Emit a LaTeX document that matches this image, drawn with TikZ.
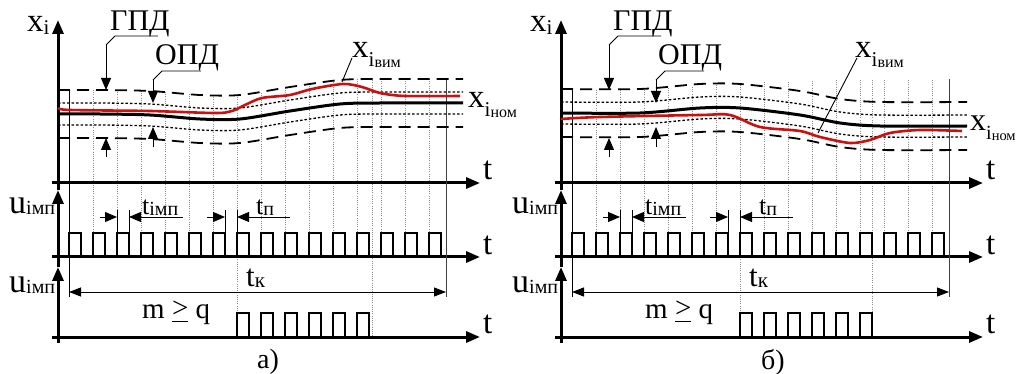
\documentclass[tikz,border=0pt]{standalone}
\usepackage{fontspec}
\setmainfont{Liberation Serif}
\usetikzlibrary{arrows.meta}
\definecolor{measred}{RGB}{204,16,16}
\newcommand\fs[1]{\fontsize{#1}{#1}\selectfont}
\newcommand\lowsub[3][3pt]{\raisebox{-#1}{\fs{#2}#3}}
\newcommand\geqbar{\setbox0\hbox{>}\rlap{\raise1pt\copy0}\rule[-4pt]{\wd0}{1.3pt}}
\tikzset{
	axisarrow/.style={line width=3pt, -{Triangle[length=14pt,width=11pt]}},
	dimarrow/.style={line width=0.9pt, -{Triangle[length=12pt,width=10pt]}},
	dimboth/.style={line width=0.9pt, {Triangle[length=12pt,width=9pt]}-{Triangle[length=12pt,width=9pt]}},
	pulse/.style={line width=2.6pt},
	gridline/.style={black!45, line width=0.7pt, dash pattern=on 1pt off 1.2pt},
	gpdline/.style={line width=1.8pt, dash pattern=on 12pt off 7pt},
	opdline/.style={line width=1.3pt, dash pattern=on 2.5pt off 2pt},
	nomline/.style={line width=3pt},
	measline/.style={measred, line width=2.6pt},
	lbl/.style={inner sep=0pt, anchor=base west},
}
\begin{document}
\begin{tikzpicture}[x=1pt, y=-1pt]
	\useasboundingbox (0,0) rectangle (1018,374);
	\foreach \k/\ya/\yb in {1/90/90, 2/90/90, 3/91/90, 4/92/88, 5/94/87, 6/95/85, 7/95/85, 8/93/82, 9/88/82, 10/84/81, 11/80/80, 12/79/80, 13/79/80, 14/79/80, 15/79/80}{
		\draw[gridline] (69+24*\k,\ya) -- (69+24*\k,233);
		\draw[gridline] (572+24*\k,\yb) -- (572+24*\k,233);
	}
	\draw[gridline] (237,233) -- (237,313);
	\draw[gridline] (372,78) -- (372,337);
	\draw[gridline] (740,233) -- (740,313);
	\draw[gridline] (872,80) -- (872,337);

	\foreach \s/\p in {0/a, 503/b}{
	\begin{scope}[xshift=\s pt]
		\draw[axisarrow] (52,183) -- (480,183);
		\draw[axisarrow] (52,257) -- (480,257);
		\draw[axisarrow] (52,337) -- (480,337);
		\draw[axisarrow] (58,343) -- (58,267);
		\draw[axisarrow] (58,267) -- (58,190);
		\draw[axisarrow] (58,190) -- (58,20);

		\foreach \k in {0,...,15}
			\draw[pulse] (69+24*\k,257) |- (81+24*\k,233) -- (81+24*\k,257);
		\foreach \k in {7,...,12}
			\draw[pulse] (69+24*\k,337) |- (81+24*\k,313) -- (81+24*\k,337);

		\draw[line width=0.8pt] (69,90) -- (69,297);
		\draw[black!75, line width=0.8pt] (446,79) -- (446,297);
		\draw[dimboth] (69,292) -- (446,292);

		\draw[line width=0.8pt] (117,210) -- (117,233);
		\draw[line width=0.8pt] (129,210) -- (129,233);
		\draw[dimarrow] (100,217) -- (117,217);
		\draw[dimarrow] (183,217) -- (129,217);
		\draw[line width=0.8pt] (225,210) -- (225,233);
		\draw[line width=0.8pt] (237,210) -- (237,233);
		\draw[dimarrow] (207,217) -- (225,217);
		\draw[dimarrow] (290,217) -- (237,217);

		\coordinate (gpdknee-\p) at (106,45);
		\coordinate (opdknee-\p) at (153,80);
		\draw[dimarrow] (gpdknee-\p) -- (106,90);
		\draw[dimarrow] (106,157) -- (106,138);
		\draw[line width=0.9pt] (gpdknee-\p) -- (115,36) -- (158,36);
		\draw[dimarrow] (opdknee-\p) -- (153,103);
		\draw[dimarrow] (153,147) -- (153,127);
		\draw[line width=0.9pt] (opdknee-\p) -- (162,71) -- (201,71);
		\node[lbl] (gpd-\p) at (110,31) {\fs{30}ГПД};
		\node[lbl] (opd-\p) at (155,65) {\fs{30}ОПД};

		\node[lbl] (xi-\p) at (27,32) {{\fs{33}x}\lowsub{21}{i}};
		\node[lbl] (uimpa-\p) at (9,214) {{\fs{34}u}\lowsub[1pt]{20}{імп}};
		\node[lbl] (uimpb-\p) at (9,293) {{\fs{34}u}\lowsub[1pt]{20}{імп}};
		\node[lbl] (ta-\p) at (483,180) {\fs{33}t};
		\node[lbl] (tb-\p) at (483,255) {\fs{33}t};
		\node[lbl] (tc-\p) at (483,334) {\fs{33}t};
		\node[lbl] (timp-\p) at (142,215) {{\fs{26}t}\lowsub[1pt]{20}{імп}};
		\node[lbl] (tp-\p) at (256,215) {{\fs{26}t}\lowsub[1pt]{20}{п}};
		\node[lbl] (tk-\p) at (246,287) {{\fs{31}t}\lowsub[1pt]{21}{к}};
		\node[lbl] (mq-\p) at (142,318) {\fs{29}m \geqbar{} q};
	\end{scope}}

	\foreach \dy/\st in {24/gpdline, -24/gpdline, 11/opdline, -11/opdline, 0/nomline}
		\draw[\st, yshift=\dy pt] plot[smooth] coordinates {(58,114) (100,114) (150,115) (200,119) (240,119) (290,111) (340,104) (380,103) (463,103)};
	\draw[measline] plot[smooth] coordinates {(58,108) (70,110) (150,111) (215,113) (232,111) (245,105) (262,98) (290,95) (312,89) (343,84) (362,87) (380,93) (405,96) (460,96)};
	\foreach \dy/\st in {24/gpdline, -24/gpdline, 11/opdline, -11/opdline, 0/nomline}
		\draw[\st, yshift=\dy pt] plot[smooth] coordinates {(561,113) (640,113) (700,108) (740,108) (800,115) (840,123) (880,126) (967,126)};
	\draw[measline] plot[smooth] coordinates {(561,119) (600,117) (700,115) (730,115) (760,127) (800,131) (820,137) (850,143) (870,140) (890,133) (920,130) (962,131)};

	\node[lbl] (xvim-a) at (352,58) {{\fs{33}x}\lowsub[9pt]{21}{i}\lowsub[10pt]{16}{вим}};
	\node[lbl] (xnom-a) at (468,108) {{\fs{33}x}\lowsub[9pt]{21}{i}\lowsub[10pt]{16}{ном}};
	\node[lbl] (xvim-b) at (855,58) {{\fs{33}x}\lowsub[9pt]{21}{i}\lowsub[10pt]{16}{вим}};
	\node[lbl] (xnom-b) at (970,131) {{\fs{32}x}\lowsub[9pt]{20}{i}\lowsub[10pt]{14.5}{ном}};
	\coordinate (vimfoot-a) at (342,82);
	\coordinate (vimfoot-b) at (818,133);
	\draw[line width=0.9pt] (vimfoot-a) -- (xvim-a.base west);
	\draw[line width=0.9pt] (vimfoot-b) -- ([xshift=2pt]xvim-b.base west);

	\node (capa) at (268,362) {\fs{28}а)};
	\node (capb) at (773,362) {\fs{28}б)};
\end{tikzpicture}
\end{document}
